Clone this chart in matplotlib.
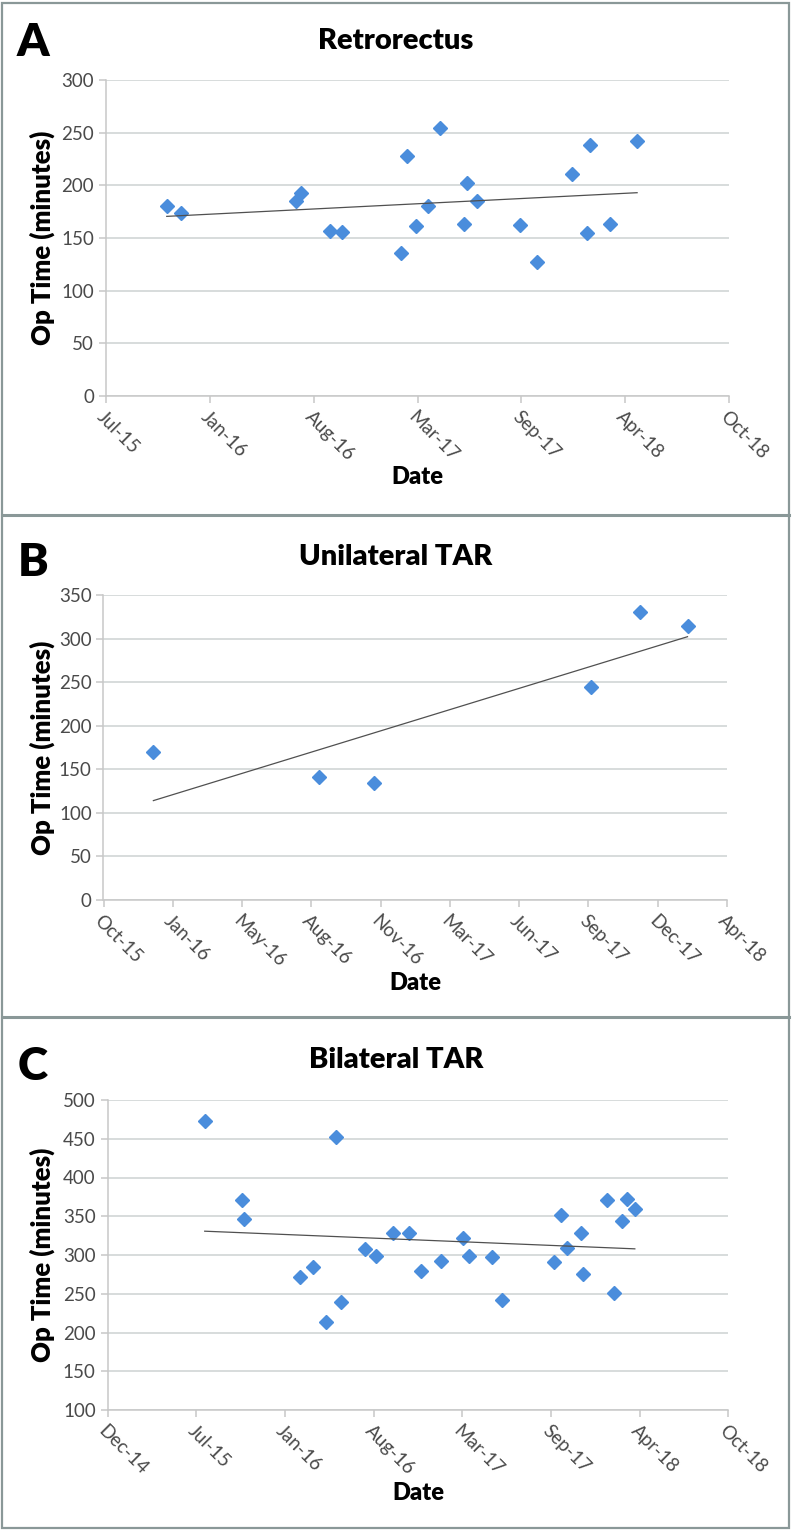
import matplotlib
matplotlib.use('Agg')
import matplotlib.pyplot as plt
import matplotlib.dates as mdates
from matplotlib.patches import Rectangle
import numpy as np
import pandas as pd

plt.rcParams['font.family'] = 'Lato'

# ---- data ----
retro_dates = ['2015-11-09', '2015-12-07', '2016-07-15', '2016-07-24', '2016-09-19', '2016-10-12',
               '2017-02-03', '2017-02-13', '2017-03-03', '2017-03-27', '2017-04-18', '2017-06-03',
               '2017-06-10', '2017-06-29', '2017-09-19', '2017-10-23', '2017-12-29', '2018-01-26',
               '2018-02-01', '2018-03-11', '2018-05-03']
retro_time = [180, 174, 185, 193, 157, 156, 136, 228, 161, 180, 254, 163, 202, 185, 162, 127, 211, 155,
              238, 163, 242]

uni_dates = ['2016-01-03', '2016-08-29', '2016-11-17', '2017-09-26', '2017-12-05', '2018-02-12']
uni_time = [170, 141, 134, 244, 330, 315]

bi_dates = ['2015-08-03', '2015-10-27', '2015-10-31', '2016-03-06', '2016-04-04', '2016-05-02',
            '2016-05-24', '2016-06-06', '2016-07-29', '2016-08-23', '2016-09-30', '2016-11-06',
            '2016-12-03', '2017-01-17', '2017-03-07', '2017-03-22', '2017-05-11', '2017-06-03',
            '2017-09-29', '2017-10-14', '2017-10-29', '2017-11-28', '2017-12-02', '2018-01-26',
            '2018-02-12', '2018-03-02', '2018-03-13', '2018-03-30']
bi_time = [473, 371, 346, 271, 284, 213, 452, 239, 308, 299, 328, 328, 280, 292, 322, 299, 298, 242,
           291, 351, 309, 328, 276, 371, 251, 344, 372, 359]

panels = [
    # letter, title, dates, values, x range, x step (days), y range, y step, axes rect (px)
    ('A', 'Retrorectus', retro_dates, retro_time, ('2015-07-15', '2018-10-27'), 200, (0, 300), 50,
     (106, 80, 729, 396)),
    ('B', 'Unilateral TAR', uni_dates, uni_time, ('2015-10-23', '2018-04-10'), 100, (0, 350), 50,
     (103.5, 595, 727, 900)),
    ('C', 'Bilateral TAR', bi_dates, bi_time, ('2014-12-27', '2018-10-27'), 200, (100, 500), 50,
     (107.6, 1100, 728.4, 1410)),
]
title_y = [41, 557, 1060]
letter_y = [42, 562, 1067]
date_label_y = [477, 983, 1493]

W, H = 793, 1531
fig = plt.figure(figsize=(W / 100, H / 100), dpi=100)

marker_color = '#4a8ddc'
grid_color = '#d4d9d9'
tick_color = '#4a4a4a'

for i, (letter, title, dates, vals, xr, xstep, yr, ystep, rect) in enumerate(panels):
    x0, y0, x1, y1 = rect
    ax = fig.add_axes([x0 / W, 1 - y1 / H, (x1 - x0) / W, (y1 - y0) / H])
    d = pd.to_datetime(dates)
    xn = mdates.date2num(d)
    ax.plot(d, vals, linestyle='none', marker='D', markersize=7.3, color=marker_color,
            markeredgecolor=marker_color, zorder=3)

    # linear trendline
    k, b = np.polyfit(xn, vals, 1)
    tx = np.array([xn.min(), xn.max()])
    ax.plot(mdates.num2date(tx), k * tx + b, color='#505050', linewidth=0.9, zorder=4)

    xmin, xmax = pd.to_datetime(xr[0]), pd.to_datetime(xr[1])
    ax.set_xlim(xmin, xmax)
    ax.set_ylim(*yr)
    ax.set_xticks(pd.date_range(xmin, xmax, freq='%dD' % xstep))
    ax.xaxis.set_major_formatter(mdates.DateFormatter('%b-%y'))
    ax.set_yticks(np.arange(yr[0], yr[1] + 1, ystep))

    ax.grid(axis='y', color=grid_color, linewidth=1.3)
    ax.set_axisbelow(True)
    for s in ['top', 'right']:
        ax.spines[s].set_visible(False)
    for s in ['left', 'bottom']:
        ax.spines[s].set_color('#c8c8c8')
        ax.spines[s].set_linewidth(1.1)
    ax.tick_params(axis='both', colors='#c8c8c8', labelcolor=tick_color, labelsize=13.5,
                   length=5, width=1.1)
    for lab in ax.get_xticklabels():
        lab.set_rotation(-45)
        lab.set_ha('left')
        lab.set_va('top')
        lab.set_rotation_mode('anchor')

    # labels
    fig.text(42 / W, 1 - (y0 + y1) / 2 / H, 'Op Time (minutes)', rotation=90, ha='center', va='center',
             fontsize=18.5, fontweight='heavy')
    fig.text((x0 + x1) / 2 / W, 1 - date_label_y[i] / H, 'Date', ha='center', va='center',
             fontsize=17, fontweight='heavy')
    fig.text(396 / W, 1 - title_y[i] / H, title, ha='center', va='center', fontsize=21,
             fontweight='heavy')
    fig.text(33 / W, 1 - letter_y[i] / H, letter, ha='center', va='center', fontsize=33,
             fontweight='heavy')

# panel frames
frame_color = '#8a9898'
fig.patches.append(Rectangle((2 / W, 3 / H), 787 / W, 1 - 6 / H, transform=fig.transFigure,
                             fill=False, edgecolor=frame_color, linewidth=1.6))
for yy in [515, 1017]:
    fig.add_artist(plt.Line2D([2 / W, 789 / W], [1 - yy / H, 1 - yy / H], transform=fig.transFigure,
                              color=frame_color, linewidth=2.2))

fig.savefig('out.png', dpi=100)
